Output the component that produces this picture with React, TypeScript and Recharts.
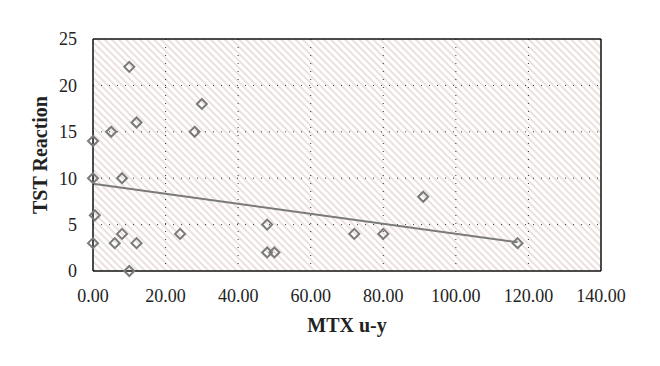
import React from 'react';
import {
  ScatterChart,
  Scatter,
  XAxis,
  YAxis,
  CartesianGrid,
  ReferenceLine,
} from 'recharts';

// MTX u-y values (x) against TST reaction (y)
const mtxValues = [0, 0, 0.5, 0, 10, 5, 12, 8, 8, 6, 12, 10, 24, 28, 30, 48, 48, 50, 72, 80, 91, 117];
const tstValues = [14, 10, 6, 3, 22, 15, 16, 10, 4, 3, 3, 0, 4, 15, 18, 5, 2, 2, 4, 4, 8, 3];

const xTicks = [0, 20, 40, 60, 80, 100, 120, 140];
const yTicks = [0, 5, 10, 15, 20, 25];

// linear trend line end points
const trendStart = { x: 0, y: 9.4 };
const trendEnd = { x: 117, y: 3.1 };

const points = mtxValues.map((x, i) => ({ x, y: tstValues[i] }));

const font = '"Liberation Serif", "DejaVu Serif", serif';
const markerColor = '#7a7a7a';

const Diamond = (props: any) => {
  const { cx, cy } = props;
  const r = 5;
  return (
    <polygon
      points={`${cx},${cy - r} ${cx + r},${cy} ${cx},${cy + r} ${cx - r},${cy}`}
      fill="none"
      stroke={markerColor}
      strokeWidth={2}
    />
  );
};

export default function App() {
  return (
    <div style={{ position: 'absolute', left: 0, top: 0, background: '#fff' }}>
      <ScatterChart
        width={660}
        height={366}
        margin={{ top: 39, right: 59, left: 0, bottom: 0 }}
        style={{ fontFamily: font }}
      >
        <defs>
          <pattern
            id="hatch"
            patternUnits="userSpaceOnUse"
            width={5}
            height={5}
            patternTransform="rotate(-45)"
          >
            <rect width={5} height={5} fill="#ffffff" />
            <line x1={1} y1={0} x2={1} y2={5} stroke="#e3d3cf" strokeWidth={1.4} />
          </pattern>
        </defs>
        <CartesianGrid
          fill="url(#hatch)"
          stroke="#333"
          strokeDasharray="1 7"
          horizontalValues={[5, 10, 15, 20]}
          verticalValues={[20, 40, 60, 80, 100, 120]}
        />
        <XAxis
          type="number"
          dataKey="x"
          domain={[0, 140]}
          ticks={xTicks}
          tickFormatter={(v) => v.toFixed(2)}
          height={95}
          tickLine={false}
          tickMargin={12}
          axisLine={{ stroke: '#111', strokeWidth: 1.5 }}
          tick={{ fill: '#222', fontSize: 18, fontFamily: font }}
          label={{
            value: 'MTX u-y',
            position: 'insideBottom',
            offset: 34,
            style: { fontWeight: 'bold', fontSize: 20, fill: '#222', fontFamily: font },
          }}
        />
        <YAxis
          type="number"
          dataKey="y"
          domain={[0, 25]}
          ticks={yTicks}
          width={93}
          tickLine={false}
          tickMargin={10}
          axisLine={{ stroke: '#111', strokeWidth: 1.5 }}
          tick={{ fill: '#222', fontSize: 18, fontFamily: font }}
          label={{
            value: 'TST Reaction',
            angle: -90,
            position: 'center',
            dx: -7,
            style: { fontWeight: 'bold', fontSize: 20, fill: '#222', fontFamily: font, textAnchor: 'middle' },
          }}
        />
        <ReferenceLine y={25} stroke="#111" strokeWidth={1.5} />
        <ReferenceLine x={140} stroke="#111" strokeWidth={1.5} />
        <ReferenceLine
          segment={[trendStart, trendEnd]}
          stroke={markerColor}
          strokeWidth={2}
          ifOverflow="visible"
        />
        <Scatter data={points} shape={<Diamond />} isAnimationActive={false} />
      </ScatterChart>
    </div>
  );
}
